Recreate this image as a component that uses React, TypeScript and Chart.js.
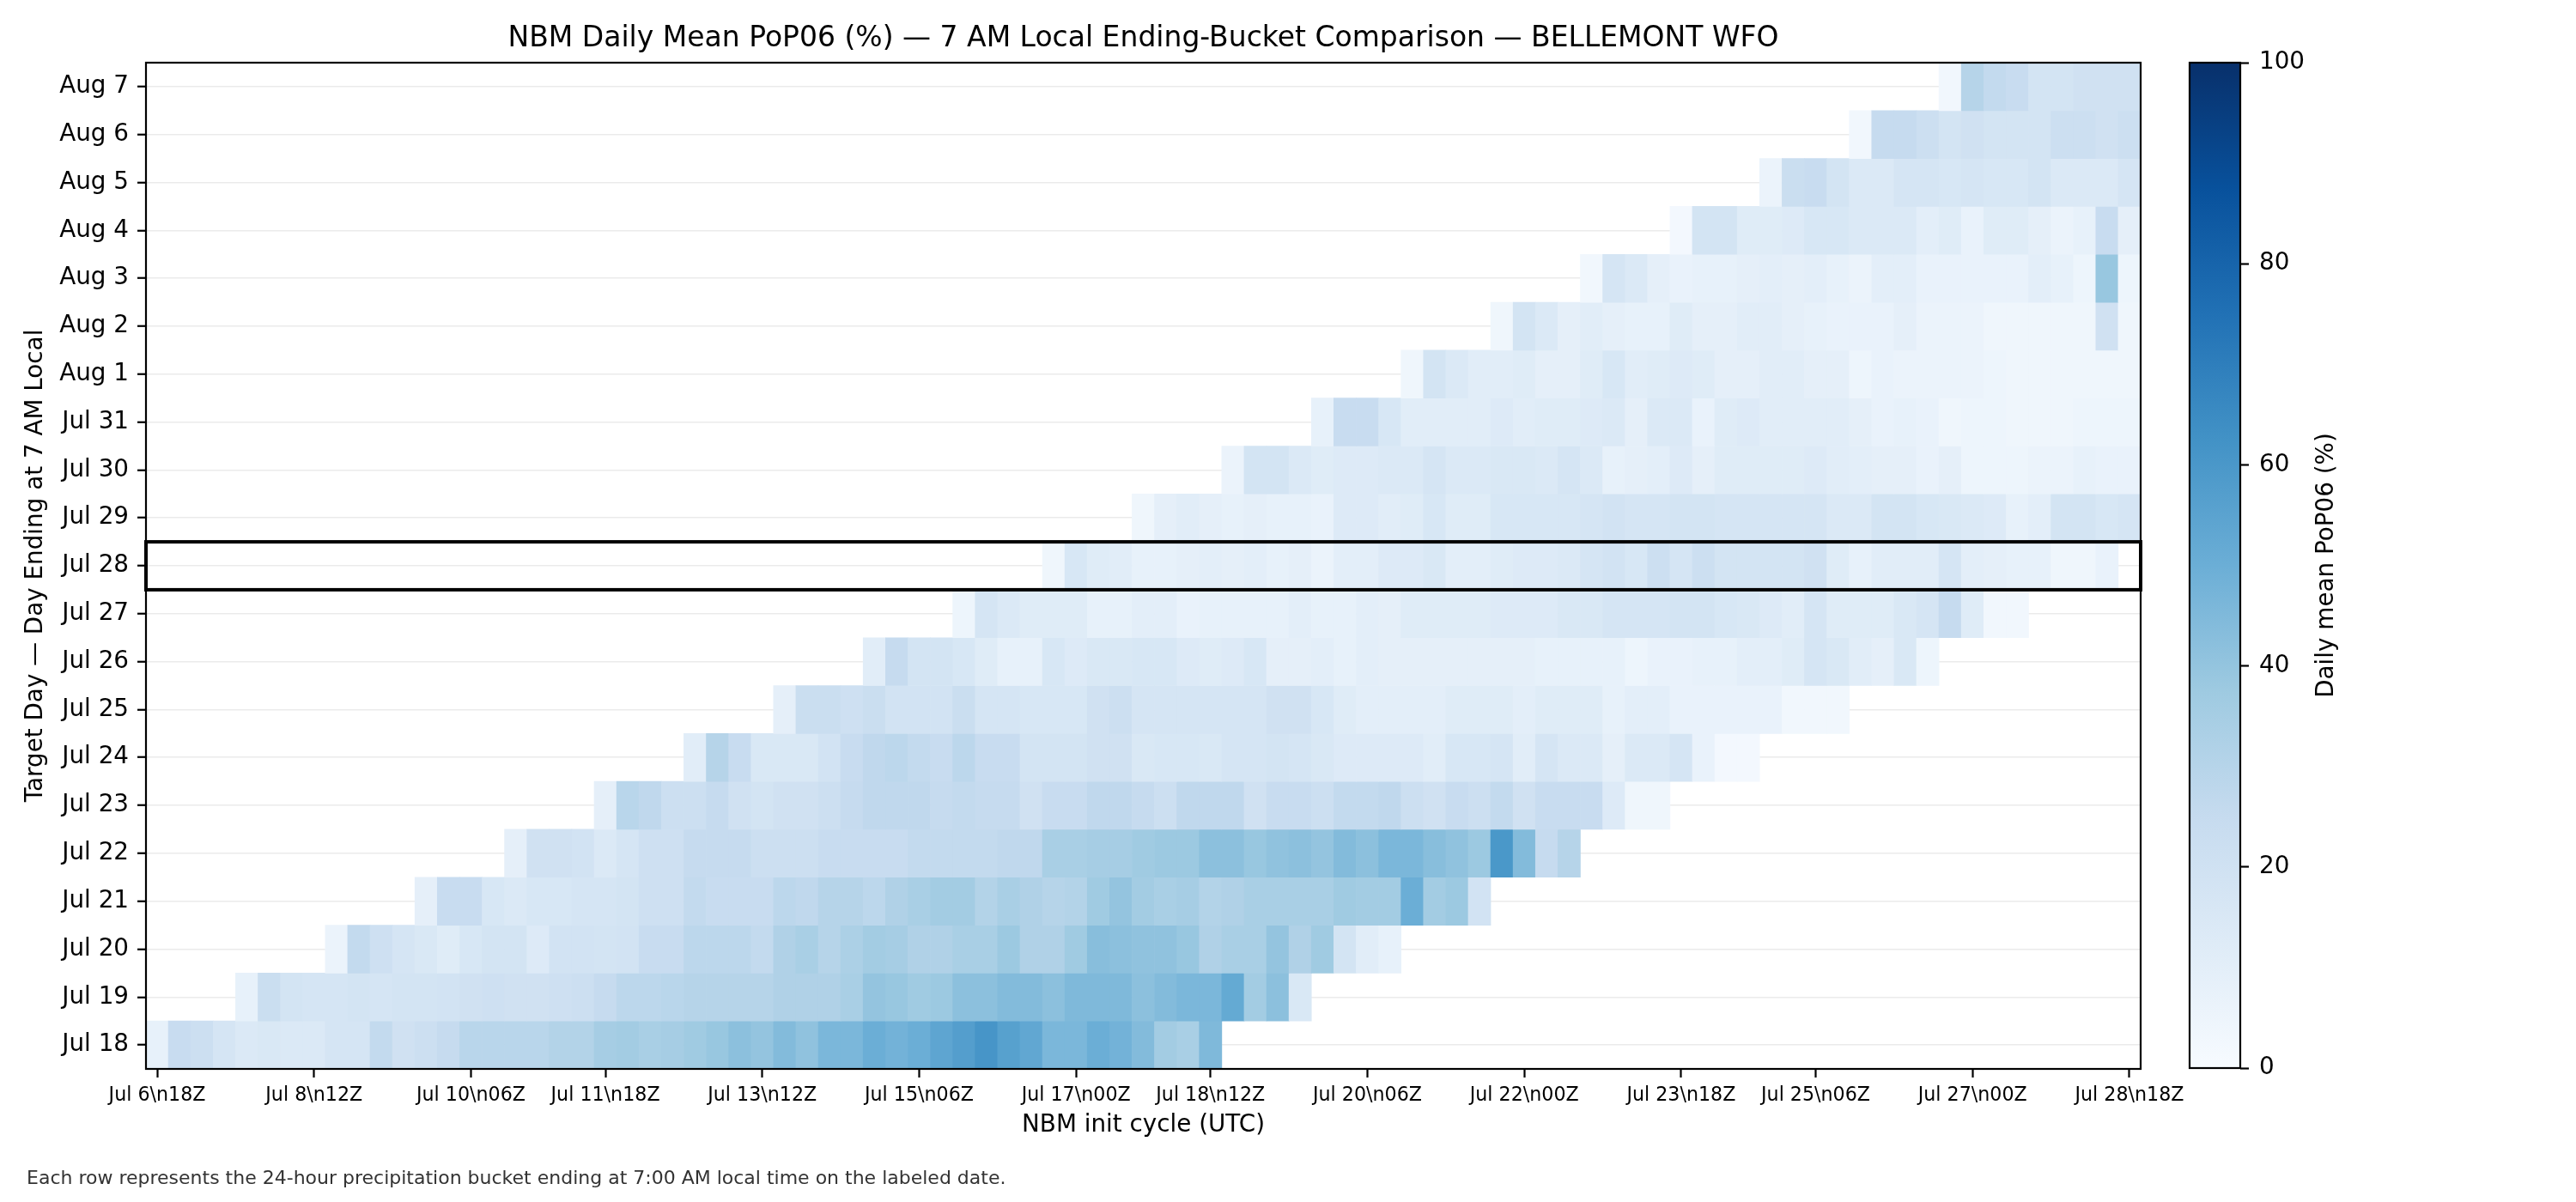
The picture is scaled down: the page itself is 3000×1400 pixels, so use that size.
import React, { useEffect, useRef } from 'react';
import { Chart, registerables } from 'chart.js';

Chart.register(...registerables);

const FONT = 'DejaVu Sans';

const chartTitle = 'NBM Daily Mean PoP06 (%) — 7 AM Local Ending-Bucket Comparison — BELLEMONT WFO';
const xAxisTitle = 'NBM init cycle (UTC)';
const yAxisTitle = 'Target Day — Day Ending at 7 AM Local';
const colorbarTitle = 'Daily mean PoP06 (%)';
const footnote = 'Each row represents the 24-hour precipitation bucket ending at 7:00 AM local time on the labeled date.';

// Target days, bottom to top
const targetDays = [
  'Jul 18', 'Jul 19', 'Jul 20', 'Jul 21', 'Jul 22', 'Jul 23', 'Jul 24', 'Jul 25', 'Jul 26', 'Jul 27',
  'Jul 28', 'Jul 29', 'Jul 30', 'Jul 31', 'Aug 1', 'Aug 2', 'Aug 3', 'Aug 4', 'Aug 5', 'Aug 6', 'Aug 7',
];
const highlightDay = 'Jul 28';

// Init cycles run every 6 h from Jul 6 18Z (index 0) to Jul 28 18Z (index 88)
const cycleCount = 89;
const cycleTickIndex = [0, 7, 14, 20, 27, 34, 41, 47, 54, 61, 68, 74, 81, 88];
const cycleTickLabels = [
  'Jul 6\\n18Z', 'Jul 8\\n12Z', 'Jul 10\\n06Z', 'Jul 11\\n18Z', 'Jul 13\\n12Z', 'Jul 15\\n06Z', 'Jul 17\\n00Z',
  'Jul 18\\n12Z', 'Jul 20\\n06Z', 'Jul 22\\n00Z', 'Jul 23\\n18Z', 'Jul 25\\n06Z', 'Jul 27\\n00Z', 'Jul 28\\n18Z',
];

// First init-cycle index that carries a forecast for each target day
const firstCycle = [0, 4, 8, 12, 16, 20, 24, 28, 32, 36, 40, 44, 48, 52, 56, 60, 64, 68, 72, 76, 80];

// Daily mean PoP06 (%) per init cycle, starting at firstCycle
const popJul18 = [8, 24, 22, 17, 14, 15, 14, 14, 17, 17, 26, 20, 22, 25, 29, 29, 29, 29, 31, 31, 35, 36, 34, 35, 37, 39, 42, 40, 44, 41, 46, 46, 50, 48, 50, 54, 57, 61, 56, 53, 46, 46, 50, 48, 44, 36, 34, 45];
const popJul19 = [8, 23, 18, 17, 17, 18, 17, 18, 18, 19, 20, 21, 20, 20, 21, 22, 25, 28, 28, 29, 30, 30, 30, 30, 32, 32, 32, 34, 40, 39, 37, 38, 42, 42, 44, 44, 42, 45, 45, 45, 42, 44, 46, 46, 52, 36, 42, 15];
const popJul20 = [6, 26, 21, 17, 15, 12, 16, 18, 18, 13, 19, 19, 18, 19, 24, 24, 28, 28, 28, 26, 32, 34, 30, 33, 36, 35, 32, 32, 34, 34, 38, 32, 32, 37, 43, 42, 41, 41, 39, 32, 34, 34, 40, 32, 37, 18, 11, 8];
const popJul21 = [9, 24, 24, 16, 14, 16, 16, 17, 17, 18, 21, 21, 26, 24, 24, 24, 28, 27, 30, 30, 28, 32, 34, 36, 36, 31, 34, 32, 30, 31, 37, 40, 36, 34, 35, 31, 32, 34, 34, 34, 34, 37, 36, 36, 50, 36, 38, 19];
const popJul22 = [9, 20, 20, 19, 14, 17, 21, 21, 25, 25, 25, 22, 22, 22, 24, 24, 24, 24, 26, 26, 26, 26, 27, 27, 34, 34, 35, 35, 37, 38, 38, 42, 42, 39, 41, 42, 40, 44, 42, 46, 46, 43, 41, 38, 60, 44, 25, 30];
const popJul23 = [9, 29, 27, 22, 22, 25, 20, 18, 20, 20, 22, 25, 27, 27, 27, 25, 26, 25, 25, 20, 24, 24, 27, 27, 25, 22, 27, 27, 27, 20, 24, 24, 22, 26, 26, 27, 22, 20, 24, 22, 26, 20, 24, 24, 24, 13, 4, 4];
const popJul24 = [11, 30, 24, 15, 15, 15, 19, 24, 27, 28, 26, 24, 28, 24, 24, 18, 18, 18, 20, 20, 15, 16, 16, 15, 17, 17, 18, 17, 15, 13, 13, 13, 13, 11, 16, 16, 17, 11, 17, 14, 14, 9, 14, 14, 17, 7, 2, 2];
const popJul25 = [9, 23, 23, 21, 23, 19, 19, 19, 23, 17, 17, 16, 16, 16, 20, 22, 17, 17, 17, 17, 17, 17, 20, 20, 16, 12, 10, 10, 10, 10, 12, 12, 12, 10, 12, 12, 12, 8, 10, 10, 7, 7, 7, 7, 7, 3, 3, 3];
const popJul26 = [11, 25, 18, 18, 16, 12, 8, 8, 16, 13, 15, 15, 16, 16, 13, 12, 13, 16, 9, 9, 10, 8, 10, 9, 9, 9, 9, 9, 9, 9, 8, 8, 8, 8, 5, 7, 7, 8, 8, 10, 10, 12, 17, 15, 11, 9, 15, 5];
const popJul27 = [5, 17, 14, 12, 12, 12, 8, 8, 10, 10, 7, 8, 8, 8, 8, 10, 8, 8, 10, 9, 12, 12, 12, 12, 13, 13, 13, 15, 15, 17, 17, 17, 18, 18, 16, 15, 13, 11, 17, 12, 12, 12, 15, 17, 25, 12, 3, 3];
const popJul28 = [4, 16, 12, 11, 8, 8, 9, 10, 9, 10, 8, 9, 6, 10, 10, 13, 13, 15, 10, 10, 12, 13, 13, 14, 17, 19, 16, 22, 17, 22, 18, 18, 18, 18, 20, 12, 8, 11, 11, 11, 17, 10, 9, 8, 8, 4, 4, 7];
const popJul29 = [4, 9, 11, 9, 8, 9, 8, 8, 7, 13, 13, 11, 12, 16, 12, 12, 16, 16, 16, 16, 17, 19, 17, 17, 18, 18, 17, 17, 17, 17, 17, 14, 14, 18, 18, 16, 15, 14, 13, 8, 10, 18, 18, 16, 17];
const popJul30 = [6, 18, 18, 14, 12, 13, 13, 14, 14, 17, 14, 14, 15, 15, 14, 17, 14, 8, 9, 10, 13, 9, 12, 12, 12, 12, 13, 11, 10, 9, 9, 7, 9, 5, 5, 5, 6, 6, 8, 7, 7];
const popJul31 = [8, 24, 24, 16, 11, 11, 11, 11, 13, 11, 12, 12, 13, 14, 9, 14, 14, 7, 12, 13, 11, 11, 11, 11, 9, 7, 8, 7, 4, 5, 5, 4, 4, 4, 5, 5, 5];
const popAug1 = [4, 18, 14, 11, 11, 12, 9, 9, 12, 16, 11, 12, 13, 12, 9, 9, 11, 11, 9, 9, 5, 7, 6, 6, 6, 6, 5, 4, 4, 4, 4, 4, 4];
const popAug2 = [4, 18, 14, 9, 11, 9, 8, 8, 12, 9, 9, 11, 11, 9, 8, 7, 7, 7, 9, 6, 6, 6, 4, 4, 4, 4, 4, 20, 4];
const popAug3 = [3, 17, 14, 9, 7, 8, 8, 9, 10, 9, 10, 8, 6, 10, 10, 7, 7, 7, 7, 7, 10, 8, 5, 39, 5];
const popAug4 = [2, 18, 18, 12, 12, 13, 16, 16, 14, 14, 14, 10, 12, 7, 12, 12, 9, 6, 8, 24, 9];
const popAug5 = [6, 23, 24, 18, 14, 14, 17, 17, 16, 17, 16, 16, 18, 14, 14, 14, 17];
const popAug6 = [3, 25, 25, 22, 18, 20, 18, 18, 18, 22, 22, 20, 22];
const popAug7 = [3, 30, 26, 24, 18, 18, 20, 20, 20];

const popByDay = [
  popJul18, popJul19, popJul20, popJul21, popJul22, popJul23, popJul24, popJul25, popJul26, popJul27,
  popJul28, popJul29, popJul30, popJul31, popAug1, popAug2, popAug3, popAug4, popAug5, popAug6, popAug7,
];

// matplotlib "Blues" colormap anchors
const BLUES = [
  [247, 251, 255], [222, 235, 247], [198, 219, 239], [158, 202, 225], [107, 174, 214],
  [66, 146, 198], [33, 113, 181], [8, 81, 156], [8, 48, 107],
];

function blues(pct: number): string {
  const t = Math.max(0, Math.min(1, pct / 100)) * (BLUES.length - 1);
  const i = Math.min(BLUES.length - 2, Math.floor(t));
  const f = t - i;
  const a = BLUES[i];
  const b = BLUES[i + 1];
  const c = a.map((v, k) => Math.round(v + (b[k] - v) * f));
  return `rgb(${c[0]},${c[1]},${c[2]})`;
}

const SPINE = 2.2;

export default function App() {
  const mainRef = useRef<HTMLCanvasElement | null>(null);
  const barRef = useRef<HTMLCanvasElement | null>(null);

  useEffect(() => {
    const cells: { x: [number, number]; y: string; v: number }[] = [];
    popByDay.forEach((vals, r) => {
      vals.forEach((v, i) => {
        const c = firstCycle[r] + i;
        cells.push({ x: [c - 0.5, c + 0.5], y: targetDays[r], v });
      });
    });

    const overlay = {
      id: 'overlay',
      afterDraw(chart: any) {
        const { ctx, chartArea: a, scales } = chart;
        const ys = scales.y;
        const idx = targetDays.indexOf(highlightDay);
        const yc = ys.getPixelForValue(idx);
        const half = Math.abs(ys.getPixelForValue(1) - ys.getPixelForValue(0)) / 2;
        ctx.save();
        ctx.strokeStyle = '#000';
        ctx.lineWidth = SPINE;
        ctx.strokeRect(a.left, a.top, a.right - a.left, a.bottom - a.top);
        ctx.lineWidth = 4;
        ctx.strokeRect(a.left, yc - half, a.right - a.left, half * 2);

        // title centred over the plot area
        ctx.fillStyle = '#000';
        ctx.font = `33px "${FONT}"`;
        ctx.textAlign = 'center';
        ctx.textBaseline = 'middle';
        ctx.fillText(chartTitle, (a.left + a.right) / 2, 45);

        ctx.fillStyle = '#333333';
        ctx.font = `22px "${FONT}"`;
        ctx.textBaseline = 'middle';
        ctx.textAlign = 'left';
        ctx.fillText(footnote, 31, 1373);
        ctx.restore();
      },
    };

    const main = new Chart(mainRef.current as HTMLCanvasElement, {
      type: 'bar',
      data: {
        labels: targetDays,
        datasets: [
          {
            data: cells as any,
            backgroundColor: (ctx: any) => blues(ctx.raw ? ctx.raw.v : 0),
            borderWidth: 0,
            barPercentage: 1,
            categoryPercentage: 1,
          },
        ],
      },
      options: {
        indexAxis: 'y',
        responsive: false,
        animation: false,
        devicePixelRatio: 1,
        events: [],
        layout: { padding: { top: 73, left: 0, right: 169, bottom: 0 } },
        plugins: {
          legend: { display: false },
          tooltip: { enabled: false },
          title: { display: false },
        },
        scales: {
          x: {
            type: 'linear',
            min: -0.5,
            max: cycleCount - 0.5,
            afterBuildTicks: (s: any) => {
              s.ticks = cycleTickIndex.map((v) => ({ value: v }));
            },
            afterFit: (s: any) => {
              s.height = 155;
            },
            ticks: {
              autoSkip: false,
              maxRotation: 0,
              minRotation: 0,
              color: '#000',
              padding: 8,
              font: { family: FONT, size: 22.2 },
              callback: (v: any) => {
                const k = cycleTickIndex.indexOf(Number(v));
                return k >= 0 ? cycleTickLabels[k] : '';
              },
            },
            grid: { drawOnChartArea: false, tickColor: '#000', tickWidth: SPINE, tickLength: 10 },
            border: { display: false },
            title: {
              display: true,
              text: xAxisTitle,
              color: '#000',
              font: { family: FONT, size: 27.8 },
              padding: { top: 0, bottom: 73 },
            },
          },
          y: {
            type: 'category',
            reverse: true,
            z: 1,
            afterFit: (s: any) => {
              s.width = 170;
            },
            ticks: {
              autoSkip: false,
              color: '#000',
              padding: 10,
              font: { family: FONT, size: 27.8 },
            },
            grid: {
              offset: false,
              color: 'rgba(128,128,128,0.16)',
              lineWidth: 1.5,
              tickColor: '#000',
              tickWidth: SPINE,
              tickLength: 10,
            },
            border: { display: false },
            title: {
              display: true,
              text: yAxisTitle,
              color: '#000',
              font: { family: FONT, size: 27.8 },
              padding: { top: 25, bottom: 0 },
            },
          },
        },
      } as any,
      plugins: [overlay],
    });

    const colorbar = {
      id: 'colorbar',
      beforeDraw(chart: any) {
        const { ctx, chartArea: a } = chart;
        const g = ctx.createLinearGradient(0, a.bottom, 0, a.top);
        BLUES.forEach((c, i) => g.addColorStop(i / (BLUES.length - 1), `rgb(${c[0]},${c[1]},${c[2]})`));
        ctx.save();
        ctx.fillStyle = g;
        ctx.fillRect(a.left, a.top, a.right - a.left, a.bottom - a.top);
        ctx.restore();
      },
      afterDraw(chart: any) {
        const { ctx, chartArea: a } = chart;
        ctx.save();
        ctx.strokeStyle = '#000';
        ctx.lineWidth = SPINE;
        ctx.strokeRect(a.left, a.top, a.right - a.left, a.bottom - a.top);
        ctx.translate(210, (a.top + a.bottom) / 2);
        ctx.rotate(-Math.PI / 2);
        ctx.fillStyle = '#000';
        ctx.font = `27.8px "${FONT}"`;
        ctx.textAlign = 'center';
        ctx.textBaseline = 'middle';
        ctx.fillText(colorbarTitle, 0, 0);
        ctx.restore();
      },
    };

    const bar = new Chart(barRef.current as HTMLCanvasElement, {
      type: 'scatter',
      data: { datasets: [] },
      options: {
        responsive: false,
        animation: false,
        devicePixelRatio: 1,
        events: [],
        layout: { padding: { left: 50, top: 73, bottom: 156, right: 0 } },
        plugins: { legend: { display: false }, tooltip: { enabled: false } },
        scales: {
          x: { display: false, min: 0, max: 1 },
          y: {
            position: 'right',
            min: 0,
            max: 100,
            afterFit: (s: any) => {
              s.width = 391;
            },
            ticks: { stepSize: 20, color: '#000', padding: 12, font: { family: FONT, size: 27.8 } },
            grid: { drawOnChartArea: false, tickColor: '#000', tickWidth: SPINE, tickLength: 10 },
            border: { display: false },
          },
        },
      } as any,
      plugins: [colorbar],
    });

    return () => {
      main.destroy();
      bar.destroy();
    };
  }, []);

  return (
    <div style={{ position: 'fixed', left: 0, top: 0, width: 3000, height: 1400, background: '#fff' }}>
      <canvas
        ref={mainRef}
        width={2662}
        height={1400}
        style={{ position: 'absolute', left: 0, top: 0, width: 2662, height: 1400 }}
      />
      <canvas
        ref={barRef}
        width={500}
        height={1400}
        style={{ position: 'absolute', left: 2500, top: 0, width: 500, height: 1400 }}
      />
    </div>
  );
}
